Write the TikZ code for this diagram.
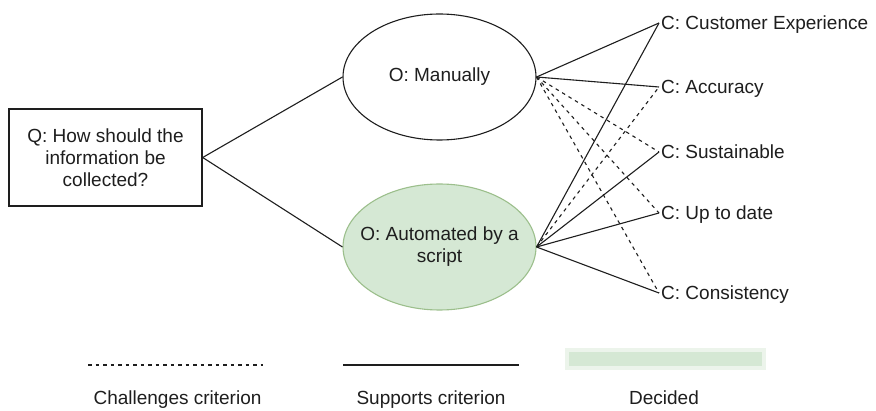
\documentclass[tikz,border=0pt]{standalone}
\usepackage{fontspec}
\setmainfont{Liberation Sans}
\usetikzlibrary{shapes.geometric}
\definecolor{ink}{HTML}{1E1E1E}
\definecolor{decidedfill}{HTML}{D5E8D4}
\definecolor{decidedline}{HTML}{9CBF8C}
\begin{document}
\begin{tikzpicture}[x=1pt,y=-1pt,
  label/.style={font=\fontsize{19}{22}\selectfont, text=ink},
  qbox/.style={label, draw=ink, line width=1.4pt, minimum width=193pt,
    minimum height=97pt, align=center, inner sep=0pt},
  option/.style={ellipse, draw=ink, line width=1.1pt,
    minimum width=193pt, minimum height=126pt, inner sep=0pt},
  optiontext/.style={label, align=center, inner sep=0pt},
  decided/.style={fill=decidedfill, draw=decidedline},
  criterion/.style={label, anchor=west, inner xsep=2pt, inner ysep=0pt,
    text height=13.6pt, text depth=0pt},
  supports/.style={draw=ink, line width=1.1pt},
  challenges/.style={draw=ink, line width=1.1pt, dash pattern=on 3.5pt off 4pt},
  legendtext/.style={label, anchor=base}]
\useasboundingbox[fill=white] (0,0) rectangle (876,411);

% question and options
\node[qbox] (q) at (105.5,157.5) {Q: How should the\\information be\\collected?};
\node[option] (man) at (439.5,77) {};
\node[optiontext] (mantext) at (man.center) {O: Manually};
\node[option, decided] (aut) at (439.5,247) {};
\node[optiontext] (auttext) at (aut.center) {O: Automated by a\\script};

% criteria
\node[criterion] (cx)  at (659,23)  {C: Customer Experience};
\node[criterion] (acc) at (659,87)  {C: Accuracy};
\node[criterion] (sus) at (659,152) {C: Sustainable};
\node[criterion] (upd) at (659,213) {C: Up to date};
\node[criterion] (con) at (659,293) {C: Consistency};

% question to options
\draw[supports] (q.east) -- (man.west);
\draw[supports] (q.east) -- (aut.west);

% manual option against the criteria
\draw[supports]   (man.east) -- (cx.west);
\draw[supports]   (man.east) -- (acc.west);
\draw[challenges] (man.east) -- (sus.west);
\draw[challenges] (man.east) -- (upd.west);
\draw[challenges] (man.east) -- (con.west);

% scripted option against the criteria
\draw[supports]   (aut.east) -- (cx.west);
\draw[challenges] (aut.east) -- (acc.west);
\draw[supports]   (aut.east) -- (sus.west);
\draw[supports]   (aut.east) -- (upd.west);
\draw[supports]   (aut.east) -- (con.west);

% legend
\coordinate (chA) at (88,365);
\coordinate (chB) at (263,365);
\coordinate (suA) at (343,365);
\coordinate (suB) at (519,365);
\draw[challenges, line width=1.2pt] (chA) -- (chB);
\draw[supports, line width=1.8pt] (suA) -- (suB);
\fill[decidedfill, opacity=0.45] (565,348) rectangle (766,370);
\fill[decidedfill] (569,352) rectangle (762,366);
\node[legendtext] (lch) at (177.5,405) {Challenges criterion};
\node[legendtext] (lsu) at (431,405) {Supports criterion};
\node[legendtext] (lde) at (664,405) {Decided};
\end{tikzpicture}
\end{document}
